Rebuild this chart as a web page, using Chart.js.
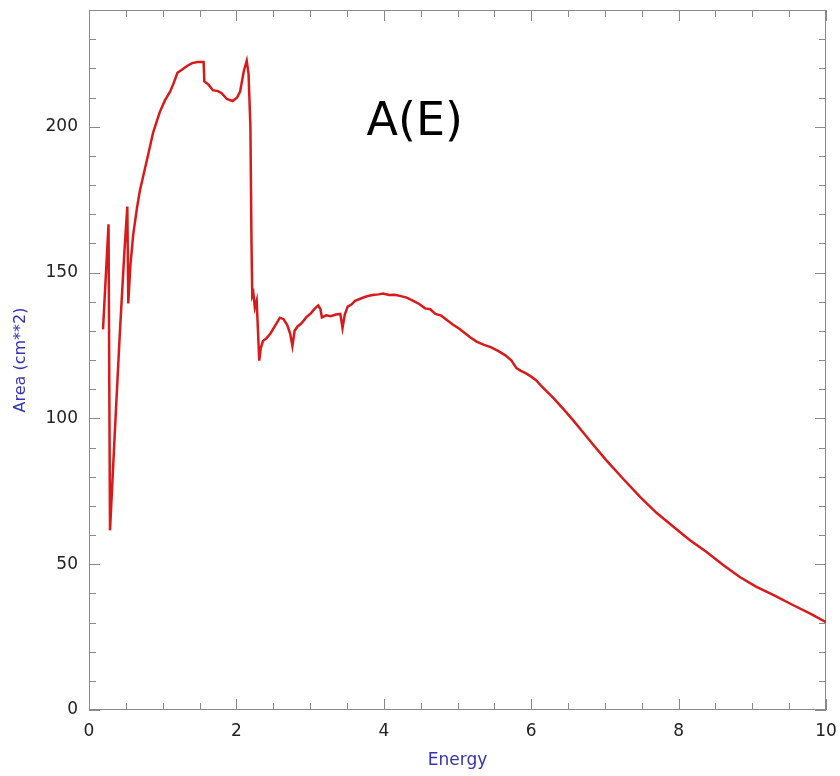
<!DOCTYPE html>
<html>
<head>
<meta charset="utf-8">
<script src="https://cdn.jsdelivr.net/npm/chart.js@4/dist/chart.umd.min.js"></script>
<style>
  html, body { margin: 0; padding: 0; background: #fff; }
  #wrap { width: 840px; height: 776px; }
</style>
</head>
<body>
<div id="wrap"><canvas id="areaChart" width="840" height="776"></canvas></div>
<script>
// effective area curve
const energy = [
    0.19, 0.265, 0.285, 0.35, 0.42, 0.48, 0.52, 0.533, 0.56, 0.60,
    0.65, 0.69, 0.79, 0.87, 0.96, 1.03, 1.10, 1.15, 1.20, 1.26,
    1.33, 1.40, 1.47, 1.555, 1.565, 1.62, 1.68, 1.75, 1.80, 1.87,
    1.95, 2.01, 2.05, 2.10, 2.14, 2.165, 2.19, 2.205, 2.215, 2.23,
    2.25, 2.275, 2.31, 2.33, 2.36, 2.41, 2.46, 2.52, 2.59, 2.64,
    2.69, 2.73, 2.76, 2.79, 2.83, 2.88, 2.95, 3.01, 3.06, 3.11,
    3.14, 3.16, 3.22, 3.28, 3.35, 3.41, 3.44, 3.47, 3.51, 3.56,
    3.61, 3.68, 3.74, 3.80, 3.87, 3.93, 3.99, 4.07, 4.15, 4.23,
    4.31, 4.40, 4.48, 4.56, 4.63, 4.70, 4.78, 4.86, 4.94, 5.02,
    5.09, 5.17, 5.26, 5.36, 5.45, 5.55, 5.65, 5.73, 5.80, 5.86,
    5.93, 6.00, 6.07, 6.14, 6.22, 6.30, 6.45, 6.57, 6.70, 6.85,
    7.02, 7.25, 7.48, 7.70, 7.93, 8.15, 8.38, 8.60, 8.83, 9.05,
    9.29, 9.55, 9.78, 10.0
];
const area = [
    130.5, 166.5, 61.6, 95, 130, 157, 172.6, 139.4, 152, 163,
    172, 178, 189, 198, 205, 209, 212, 215, 218.5, 219.5,
    220.8, 221.8, 222.2, 222.2, 215.5, 214.5, 212.5, 212.2, 211.5, 209.5,
    208.8, 210, 212, 219, 222.6, 218, 200, 160, 142, 143,
    138, 140.4, 119.8, 124, 126.5, 127.5, 129, 131.5, 134.5, 134,
    132, 129, 124.8, 130, 131.5, 132.5, 134.7, 136, 137.5, 138.7,
    137.5, 134.6, 135.3, 135, 135.6, 135.8, 131.0, 135.5, 138.3, 139,
    140.3, 141, 141.6, 142, 142.4, 142.5, 142.8, 142.3, 142.4, 141.9,
    141.4, 140.3, 139.2, 137.7, 137.4, 135.8, 135.2, 133.6, 132.1, 130.8,
    129.4, 127.8, 126.3, 125.2, 124.4, 123.1, 121.6, 119.9, 117.2, 116.3,
    115.4, 114.3, 113, 111, 109, 107, 102.8, 99.3, 95.3, 90.7,
    85.6, 79.2, 73, 67.6, 62.8, 58.3, 54.2, 49.8, 45.6, 42.3,
    39.4, 36, 33.1, 30.1
];

const xTicks = [0, 2, 4, 6, 8, 10];
const yTicks = [0, 50, 100, 150, 200];
const xMinor = 0.5;
const yMinor = 10;

const plotLabel = 'A(E)';
const labelPos = { x: 4.42, y: 197 };

const points = energy.map((e, i) => ({ x: e, y: area[i] }));

// box round the plot with inward ticks on all four sides
const frameTicks = {
    id: 'frameTicks',
    beforeDatasetsDraw(chart) {
        const { ctx, chartArea: a, scales } = chart;
        const sx = scales.x, sy = scales.y;
        ctx.save();
        ctx.strokeStyle = '#8a8a8a';
        ctx.lineWidth = 1;
        ctx.strokeRect(a.left + 0.5, a.top + 0.5, a.right - a.left - 1, a.bottom - a.top - 1);
        ctx.beginPath();
        for (let v = sx.min; v <= sx.max + 1e-9; v += xMinor) {
            const px = Math.round(sx.getPixelForValue(v)) + 0.5;
            const len = xTicks.includes(Math.round(v * 10) / 10) ? 11 : 7;
            ctx.moveTo(px, a.bottom); ctx.lineTo(px, a.bottom - len);
            ctx.moveTo(px, a.top); ctx.lineTo(px, a.top + len);
        }
        for (let v = sy.min; v <= sy.max + 1e-9; v += yMinor) {
            const py = Math.round(sy.getPixelForValue(v)) + 0.5;
            const len = yTicks.includes(v) ? 11 : 7;
            ctx.moveTo(a.left, py); ctx.lineTo(a.left + len, py);
            ctx.moveTo(a.right, py); ctx.lineTo(a.right - len, py);
        }
        ctx.stroke();
        ctx.restore();
    },
    afterDraw(chart) {
        const { ctx, scales } = chart;
        ctx.save();
        ctx.fillStyle = '#000';
        ctx.font = '46px "DejaVu Sans"';
        ctx.textAlign = 'center';
        ctx.textBaseline = 'alphabetic';
        ctx.fillText(plotLabel, scales.x.getPixelForValue(labelPos.x), scales.y.getPixelForValue(labelPos.y));
        ctx.restore();
    }
};

const areaChart = new Chart(document.getElementById('areaChart').getContext('2d'), {
    type: 'scatter',
    data: {
        datasets: [{
            data: points,
            showLine: true,
            borderColor: '#d91a1a',
            borderWidth: 2.5,
            pointRadius: 0,
            tension: 0,
            fill: false
        }]
    },
    options: {
        responsive: false,
        animation: false,
        layout: { padding: { top: 10, right: 14, left: 0, bottom: 0 } },
        plugins: { legend: { display: false }, tooltip: { enabled: false } },
        scales: {
            x: {
                type: 'linear',
                min: 0,
                max: 10,
                afterBuildTicks: s => { s.ticks = xTicks.map(v => ({ value: v })); },
                afterFit: s => { s.height = 66; s.paddingLeft = 0; s.paddingRight = 0; },
                grid: { display: false, drawTicks: false },
                border: { display: false },
                ticks: { color: '#222', padding: 11, maxRotation: 0, font: { family: 'DejaVu Sans', size: 17 } },
                title: {
                    display: true,
                    text: 'Energy',
                    color: '#3434b4',
                    font: { family: 'DejaVu Sans', size: 17 },
                    padding: { top: 0, bottom: 5 }
                }
            },
            y: {
                type: 'linear',
                min: 0,
                max: 240,
                afterBuildTicks: s => { s.ticks = yTicks.map(v => ({ value: v })); },
                afterFit: s => { s.width = 89; s.paddingTop = 0; s.paddingBottom = 0; },
                grid: { display: false, drawTicks: false },
                border: { display: false },
                ticks: { color: '#222', padding: 11, font: { family: 'DejaVu Sans', size: 17 } },
                title: {
                    display: true,
                    text: 'Area (cm**2)',
                    color: '#3434b4',
                    font: { family: 'DejaVu Sans', size: 16 },
                    padding: { top: 11, bottom: 0 }
                }
            }
        }
    },
    plugins: [frameTicks]
});
</script>
</body>
</html>
